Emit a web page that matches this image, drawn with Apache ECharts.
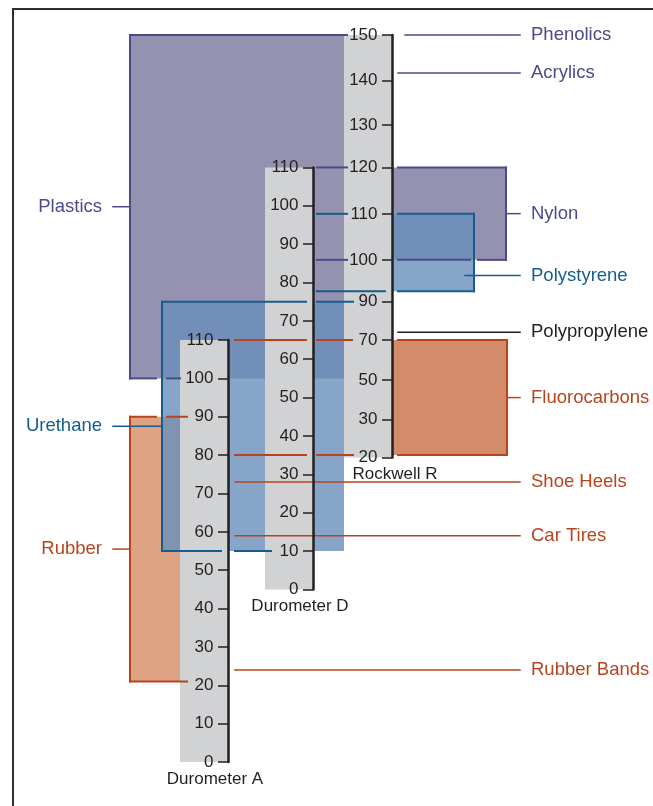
<!DOCTYPE html>
<html>
<head>
<meta charset="utf-8">
<script src="https://cdn.jsdelivr.net/npm/echarts@6/dist/echarts.min.js"></script>
<style>
  html, body { margin: 0; padding: 0; background: #ffffff; }
  #chart { width: 653px; height: 806px; }
</style>
</head>
<body>
<div id="chart"></div>
<script>
// ---- Hardness scales ----
const durometerARange = [0, 110];
const durometerDRange = [0, 110];
const durometerStep = 10;
// Rockwell R readings and where each one sits on the common hardness line (Durometer A points)
const rockwellTicks = [150, 140, 130, 120, 110, 100, 90, 70, 50, 30, 20];
const rockwellOnA   = [189.5, 177.6, 166.0, 155.0, 142.9, 130.9, 120.0, 110.0, 99.6, 89.3, 79.4];
// Durometer D 0 lines up with Durometer A 45
const durometerDZeroOnA = 45;

// ---- Material ranges ----
const bandNames     = ['Plastics', 'Rubber', 'Urethane', 'Nylon', 'Polystyrene', 'Fluorocarbons'];
const bandHigh      = [150, 90, 75, 120, 110, 70];
const bandHighScale = ['R', 'A', 'D', 'R', 'R', 'R'];
const bandLow       = [100, 21, 10, 100, 92.5, 80];
const bandLowScale  = ['A', 'A', 'D', 'R', 'R', 'A'];

// ---- Single readings ----
const markNames  = ['Phenolics', 'Acrylics', 'Polypropylene', 'Shoe Heels', 'Car Tires', 'Rubber Bands'];
const markValues = [150, 141.7, 74, 73, 59, 24];
const markScales = ['R', 'R', 'R', 'A', 'A', 'A'];

// Convert a reading on any scale to the common hardness line
function toCommon(scale, v) {
  if (scale === 'A') return v;
  if (scale === 'D') return v + durometerDZeroOnA;
  for (let i = 0; i < rockwellTicks.length - 1; i++) {
    const hi = rockwellTicks[i], lo = rockwellTicks[i + 1];
    if (v <= hi && v >= lo) {
      const t = (v - lo) / (hi - lo);
      return rockwellOnA[i + 1] + t * (rockwellOnA[i] - rockwellOnA[i + 1]);
    }
  }
  return v > rockwellTicks[0] ? rockwellOnA[0] : rockwellOnA[rockwellOnA.length - 1];
}

// ---- Layout & style ----
const FONT = "'Liberation Sans', Arial, Helvetica, sans-serif";
const FONT_SIZE = 17;
const NAME_FONT_SIZE = 18.5;
const INK = '#231f20';
const PURPLE = '#4b4a8c';
const BLUE = '#155d8d';
const RUST = '#b8441e';
const BAR_GRAY = '#d1d2d4';
const PURPLE_FILL = '#9591b0';
const BLUE_FILL = 'rgba(104,142,188,0.8)';

const PX_PER_POINT = 3.836;   // vertical pixels per Durometer A point
const ZERO_Y = 762;           // canvas y of Durometer A 0
const COMMON_MIN = -10, COMMON_MAX = 190;
const BAR_W = 48;
const axisX = { A: 228, D: 313, R: 392 };
const LEFT_LABEL_X = 102;
const RIGHT_LABEL_X = 531;

function gridBox(left, lo, hi) {
  return {
    left: left, width: BAR_W,
    top: ZERO_Y - PX_PER_POINT * hi,
    height: PX_PER_POINT * (hi - lo),
    show: false, containLabel: false, outerBoundsMode: 'none'
  };
}

const bandStyle = {
  Plastics:      { stroke: PURPLE, fill: PURPLE_FILL, fillX: [130, 344], edgeX: 130, leader: [113, 130], side: 'left',
                   high: [[130, 347]], low: [[130, 156], [167, 180]] },
  Rubber:        { stroke: RUST, fill: '#dea383', fillX: [130, 180], edgeX: 130, leader: [113, 130], side: 'left',
                   high: [[130, 156], [167, 187]], low: [[130, 187]] },
  Urethane:      { stroke: BLUE, fill: BLUE_FILL, fillX: [162, 344], edgeX: 162, leader: [113, 162], side: 'left',
                   high: [[162, 306], [317, 353]], low: [[162, 221], [235, 271]] },
  Nylon:         { stroke: PURPLE, fill: PURPLE_FILL, fillX: [392, 506], edgeX: 506, leader: [506, 520], side: 'right',
                   high: [[317, 347], [398, 506]], low: [[317, 347], [398, 470], [478, 506]] },
  Polystyrene:   { stroke: BLUE, fill: BLUE_FILL, fillX: [392, 474], edgeX: 474, leader: [465, 520], side: 'right',
                   high: [[317, 347], [398, 474]], low: [[317, 385], [398, 474]], labelBelow: 'Nylon' },
  Fluorocarbons: { stroke: RUST, fill: '#d38b6a', fillX: [392, 507], edgeX: 507, leader: [507, 520], side: 'right',
                   high: [[235, 306], [317, 352], [398, 507]], low: [[235, 306], [317, 353], [398, 507]] }
};

const markStyle = {
  'Phenolics':     { stroke: PURPLE, span: [405, 520] },
  'Acrylics':      { stroke: PURPLE, span: [398, 520] },
  'Polypropylene': { stroke: INK,    span: [398, 520] },
  'Shoe Heels':    { stroke: RUST,   span: [235, 520] },
  'Car Tires':     { stroke: RUST,   span: [235, 520] },
  'Rubber Bands':  { stroke: RUST,   span: [235, 520] }
};

// ---- Build drawable pieces from the data ----
const fills = [];     // [x1, lo, x2, hi]
const fillColors = [];
const segments = [];  // [x1, v1, x2, v2]
const segStyles = [];
const labels = [];    // [x, v]
const labelStyles = [];

const bandLowCommon = {};
bandNames.forEach((name, i) => {
  bandLowCommon[name] = toCommon(bandLowScale[i], bandLow[i]);
});

bandNames.forEach((name, i) => {
  const s = bandStyle[name];
  const hi = toCommon(bandHighScale[i], bandHigh[i]);
  const lo = toCommon(bandLowScale[i], bandLow[i]);
  fills.push([s.fillX[0], lo, s.fillX[1], hi]);
  fillColors.push(s.fill);
  s.high.forEach(([a, b]) => { segments.push([a, hi, b, hi]); segStyles.push({ c: s.stroke, w: 2 }); });
  s.low.forEach(([a, b]) => { segments.push([a, lo, b, lo]); segStyles.push({ c: s.stroke, w: 2 }); });
  segments.push([s.edgeX, hi, s.edgeX, lo]); segStyles.push({ c: s.stroke, w: 2 });
  const top = s.labelBelow ? bandLowCommon[s.labelBelow] : hi;
  const mid = (top + lo) / 2;
  segments.push([s.leader[0], mid, s.leader[1], mid]); segStyles.push({ c: s.stroke, w: 1.5 });
  labels.push([s.side === 'left' ? LEFT_LABEL_X : RIGHT_LABEL_X, mid]);
  labelStyles.push({ text: name, c: s.stroke, align: s.side === 'left' ? 'right' : 'left' });
});

markNames.forEach((name, i) => {
  const s = markStyle[name];
  const v = toCommon(markScales[i], markValues[i]);
  segments.push([s.span[0], v, s.span[1], v]); segStyles.push({ c: s.stroke, w: 1.5 });
  labels.push([RIGHT_LABEL_X, v]);
  labelStyles.push({ text: name, c: s.stroke, align: 'left' });
});

// Gray scale bars: [right edge x, low, high]
const scaleBars = [
  [axisX.A, toCommon('A', durometerARange[0]), toCommon('A', durometerARange[1])],
  [axisX.D, toCommon('D', durometerDRange[0]), toCommon('D', durometerDRange[1])],
  [axisX.R, toCommon('R', rockwellTicks[rockwellTicks.length - 1]), toCommon('R', rockwellTicks[0])]
];

// ---- Chart ----
const axisCommon = {
  type: 'value', position: 'right', z: 5,
  splitLine: { show: false },
  axisLine: { show: true, onZero: false, lineStyle: { color: INK, width: 2.5 } },
  axisTick: { show: true, inside: true, length: 10, lineStyle: { color: INK, width: 1.5 } },
  axisLabel: { inside: true, margin: 14.5, fontSize: FONT_SIZE, fontFamily: FONT, color: INK },
  nameLocation: 'start',
  nameGap: 7
};

const chart = echarts.init(document.getElementById('chart'), null, { renderer: 'canvas' });

const rMinCommon = rockwellOnA[rockwellOnA.length - 1];
const rMaxCommon = rockwellOnA[0];

function nearestRockwell(v) {
  let best = 0, d = Infinity;
  rockwellOnA.forEach((p, i) => { if (Math.abs(p - v) < d) { d = Math.abs(p - v); best = i; } });
  return rockwellTicks[best];
}

chart.setOption({
  animation: false,
  backgroundColor: '#ffffff',
  grid: [
    { left: 0, width: 653, top: ZERO_Y - PX_PER_POINT * COMMON_MAX, height: PX_PER_POINT * (COMMON_MAX - COMMON_MIN),
      show: false, containLabel: false, outerBoundsMode: 'none' },
    gridBox(axisX.A - BAR_W, durometerARange[0], toCommon('A', durometerARange[1])),
    gridBox(axisX.D - BAR_W, toCommon('D', durometerDRange[0]), toCommon('D', durometerDRange[1])),
    gridBox(axisX.R - BAR_W, rMinCommon, rMaxCommon)
  ],
  xAxis: [
    { gridIndex: 0, type: 'value', min: 0, max: 653, show: false },
    { gridIndex: 1, type: 'value', show: false },
    { gridIndex: 2, type: 'value', show: false },
    { gridIndex: 3, type: 'value', show: false }
  ],
  yAxis: [
    { gridIndex: 0, type: 'value', min: COMMON_MIN, max: COMMON_MAX, show: false },
    Object.assign({}, axisCommon, {
      gridIndex: 1, min: durometerARange[0], max: durometerARange[1], interval: durometerStep,
      name: 'Durometer A',
      nameTextStyle: { fontSize: FONT_SIZE, fontFamily: FONT, color: INK, padding: [0, 26, 0, 0] }
    }),
    Object.assign({}, axisCommon, {
      gridIndex: 2, min: durometerDRange[0], max: durometerDRange[1], interval: durometerStep,
      name: 'Durometer D',
      nameTextStyle: { fontSize: FONT_SIZE, fontFamily: FONT, color: INK, padding: [0, 26, 0, 0] }
    }),
    Object.assign({}, axisCommon, {
      gridIndex: 3, min: rMinCommon, max: rMaxCommon,
      axisTick: Object.assign({}, axisCommon.axisTick, { customValues: rockwellOnA }),
      axisLabel: Object.assign({}, axisCommon.axisLabel, {
        customValues: rockwellOnA,
        formatter: v => String(nearestRockwell(v))
      }),
      name: 'Rockwell R',
      nameTextStyle: { fontSize: FONT_SIZE, fontFamily: FONT, color: INK, padding: [0, 0, 0, 6] }
    })
  ],
  series: [
    {
      // material range fills
      type: 'custom', z: 1, silent: true, clip: false,
      xAxisIndex: 0, yAxisIndex: 0,
      encode: { x: [0, 2], y: [1, 3] },
      data: fills,
      renderItem: (params, api) => {
        const p1 = api.coord([api.value(0), api.value(3)]);
        const p2 = api.coord([api.value(2), api.value(1)]);
        return { type: 'rect', shape: { x: p1[0], y: p1[1], width: p2[0] - p1[0], height: p2[1] - p1[1] },
                 style: { fill: fillColors[params.dataIndex] } };
      }
    },
    {
      // gray scale bars
      type: 'custom', z: 2, silent: true, clip: false,
      xAxisIndex: 0, yAxisIndex: 0,
      encode: { x: 0, y: [1, 2] },
      data: scaleBars,
      renderItem: (params, api) => {
        const top = api.coord([api.value(0), api.value(2)]);
        const bottom = api.coord([api.value(0), api.value(1)]);
        return { type: 'rect', shape: { x: top[0] - BAR_W, y: top[1], width: BAR_W, height: bottom[1] - top[1] },
                 style: { fill: BAR_GRAY } };
      }
    },
    {
      // range edges, leaders and reading lines
      type: 'custom', z: 3, silent: true, clip: false,
      xAxisIndex: 0, yAxisIndex: 0,
      encode: { x: [0, 2], y: [1, 3] },
      data: segments,
      renderItem: (params, api) => {
        const a = api.coord([api.value(0), api.value(1)]);
        const b = api.coord([api.value(2), api.value(3)]);
        const st = segStyles[params.dataIndex];
        return { type: 'line', shape: { x1: a[0], y1: a[1], x2: b[0], y2: b[1] },
                 style: { stroke: st.c, lineWidth: st.w, lineCap: 'square' } };
      }
    },
    {
      // material names
      type: 'custom', z: 4, silent: true, clip: false,
      xAxisIndex: 0, yAxisIndex: 0,
      encode: { x: 0, y: 1 },
      data: labels,
      renderItem: (params, api) => {
        const p = api.coord([api.value(0), api.value(1)]);
        const st = labelStyles[params.dataIndex];
        return { type: 'text', x: p[0], y: p[1],
                 style: { text: st.text, fill: st.c, font: NAME_FONT_SIZE + 'px ' + FONT, align: st.align, verticalAlign: 'middle' } };
      }
    }
  ],
  graphic: [
    {
      type: 'polyline', silent: true, z: 0,
      shape: { points: [[13, 806], [13, 9], [653, 9]] },
      style: { stroke: '#2e2e2e', lineWidth: 2, fill: null }
    }
  ]
});
</script>
</body>
</html>
